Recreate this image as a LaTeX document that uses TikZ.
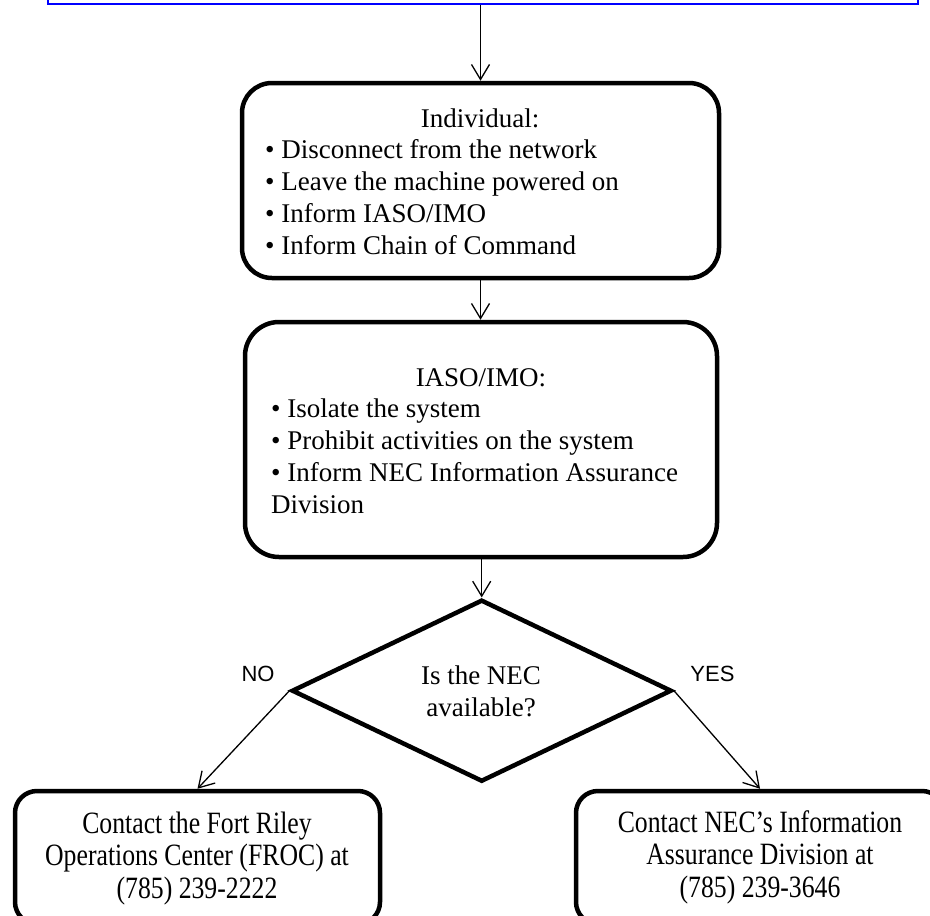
\documentclass[tikz,border=0pt]{standalone}
\usepackage{fontspec}
\setmainfont{Liberation Serif}
\newfontfamily\labelsans{Liberation Sans}
\newfontfamily\narrowserif[FakeStretch=0.83]{Liberation Serif}
\usetikzlibrary{arrows.meta,shapes.geometric}

\begin{document}
\begin{tikzpicture}[x=1pt,y=-1pt,
  flowbox/.style={draw, line width=4.5pt, rounded corners=30pt, inner sep=0pt},
  bodytext/.style={inner sep=0pt, font=\fontsize{27}{31.75}\selectfont},
  contacttext/.style={inner sep=0pt, align=center, font=\narrowserif\fontsize{31}{32.5}\selectfont},
  flow/.style={draw, line width=1.3pt, -{Straight Barb[length=15pt,width=18pt,line width=1.3pt]}},
  branch/.style={inner sep=0pt, font=\labelsans\fontsize{22}{26}\selectfont},
]
\useasboundingbox (0,0) rectangle (930,916);

% incident notice (top edge runs off the page)
\node[draw=blue, line width=2.5pt, minimum width=870pt, minimum height=100pt, inner sep=0pt] (alert) at (483,-46) {};

% first responder; multi-line blocks are placed by the baseline of their last line
\node[flowbox, minimum width=477pt, minimum height=195pt] (indiv) at (480.5,180.5) {};
\node[bodytext, anchor=base] (indivtitle) at (480,127) {Individual:};
\node[bodytext, anchor=base west, align=left] (indivlist) at (265,254)
  {\textbullet\ Disconnect from the network\\
   \textbullet\ Leave the machine powered on\\
   \textbullet\ Inform IASO/IMO\\
   \textbullet\ Inform Chain of Command};

% information assurance officer
\node[flowbox, rounded corners=34pt, minimum width=472pt, minimum height=235pt] (iaso) at (481,439.5) {};
\node[bodytext, anchor=base] (iasotitle) at (481,386) {IASO/IMO:};
\node[bodytext, anchor=base west, align=left] (iasolist) at (271,513)
  {\textbullet\ Isolate the system\\
   \textbullet\ Prohibit activities on the system\\
   \textbullet\ Inform NEC Information Assurance\\
   Division};

% decision
\node[draw, diamond, line width=4.5pt, minimum width=380pt, minimum height=182pt, inner sep=0pt] (nec) at (481.7,690.7) {};
\node[bodytext, anchor=base, align=center] (necq) at (481,716.7) {Is the NEC\\available?};
\node[branch, anchor=base] (nolabel) at (258,681) {NO};
\node[branch, anchor=base] (yeslabel) at (712.5,681) {YES};

% contacts (bottom edges run off the page)
\node[flowbox, rounded corners=22pt, minimum width=365pt, minimum height=133pt] (froc) at (197.5,857.5) {};
\node[contacttext, anchor=base] (froctext) at (197,898)
  {Contact the Fort Riley\\Operations Center (FROC) at\\(785) 239-2222};
\node[flowbox, rounded corners=22pt, minimum width=368pt, minimum height=133pt] (iad) at (760,857.5) {};
\node[contacttext, anchor=base] (iadtext) at (760,897)
  {Contact NEC’s Information\\Assurance Division at\\(785) 239-3646};

% connectors
\draw[flow] (alert.south -| indiv.north) -- (indiv.north);
\draw[flow] (indiv.south) -- (indiv.south |- iaso.north);
\draw[flow] (iaso.south -| nec.north) -- (nec.north);
\draw[flow] (nec.west) -- (froc.north);
\draw[flow] (nec.east) -- (iad.north);
\end{tikzpicture}
\end{document}
